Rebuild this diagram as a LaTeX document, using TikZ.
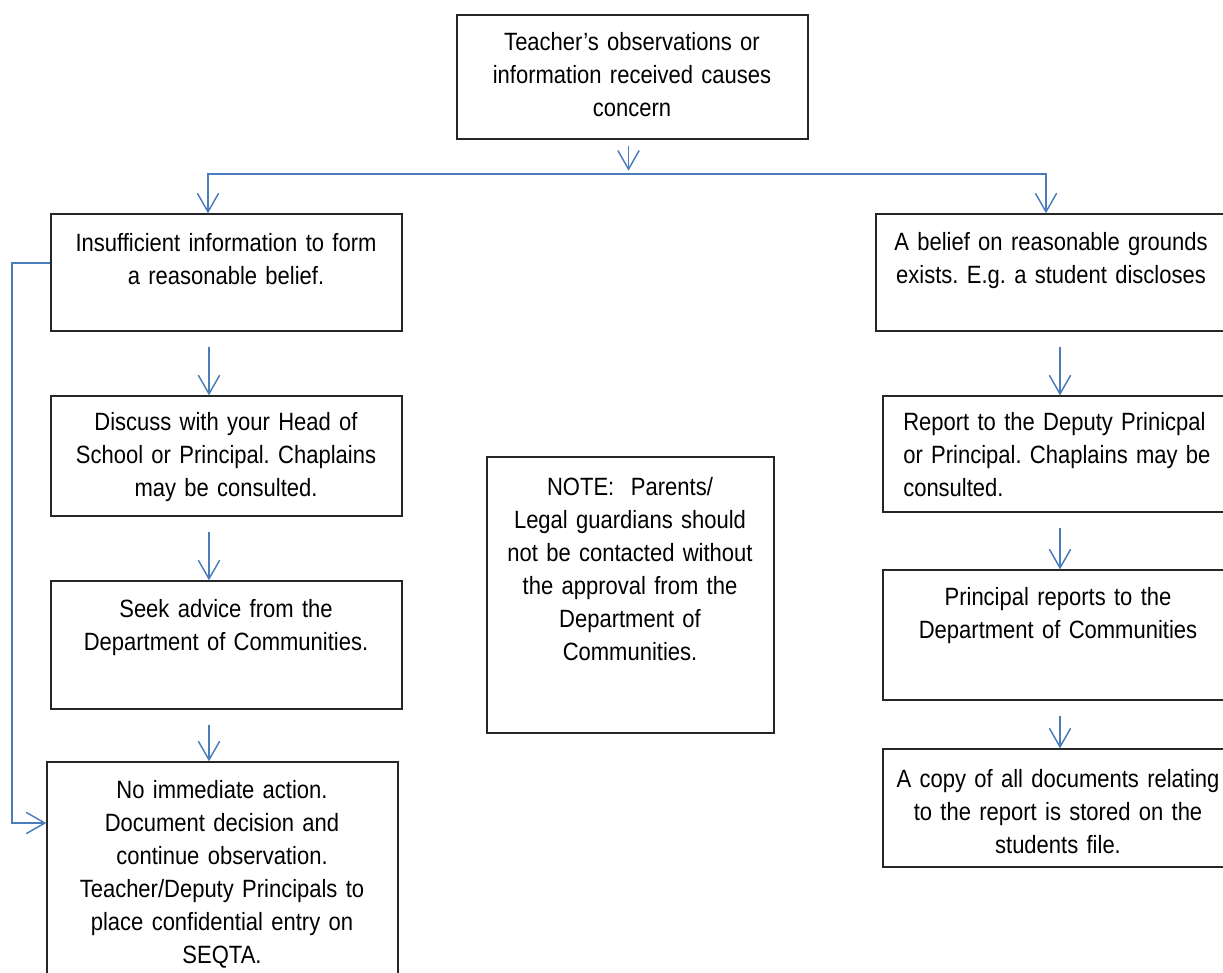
\documentclass[tikz,border=0pt]{standalone}
\usepackage{fontspec}
\setmainfont{Liberation Sans}[FakeStretch=0.88,WordSpace=0.7]
\frenchspacing
\usetikzlibrary{arrows.meta,fit}
\definecolor{flowblue}{HTML}{4A7EBB}
\definecolor{boxline}{HTML}{262626}
\tikzset{
  stepbox/.style={draw=boxline, line width=1pt, inner sep=0pt},
  steptext/.style={inner sep=0pt, text width=265pt, align=center, anchor=base,
    font=\fontsize{18.75pt}{24.75pt}\selectfont},
  flow/.style={draw=flowblue, line width=1.1pt, -{Straight Barb[length=14pt,width=16pt]}},
  splitflow/.style={flow, {Straight Barb[length=14pt,width=16pt]}-{Straight Barb[length=14pt,width=16pt]}}
}
\begin{document}
\begin{tikzpicture}[x=0.75pt,y=-0.75pt]
  \useasboundingbox (0,0) rectangle (1223,972);
  \clip (0,0) rectangle (1223,972);

  \node[stepbox, fit={(457,15) (808,139)}] (top) {};
  \node[stepbox, fit={(51,214) (402,331)}] (ins) {};
  \node[stepbox, fit={(51,396) (402,516)}] (dis) {};
  \node[stepbox, fit={(51,581) (402,709)}] (seek) {};
  \node[stepbox, fit={(47,762) (398,995)}] (noact) {};
  \node[stepbox, fit={(487,457) (774,733)}] (note) {};
  \node[stepbox, fit={(876,214) (1228,331)}] (bel) {};
  \node[stepbox, fit={(883,396) (1232,512)}] (rep) {};
  \node[stepbox, fit={(883,570) (1232,700)}] (prin) {};
  \node[stepbox, fit={(883,749) (1232,867)}] (copy) {};

  \node[steptext] (topT) at (632,50) {Teacher’s observations or\\ information received causes\\ concern};
  \node[steptext] (insT) at (226,251) {Insufficient information to form\\ a reasonable belief.};
  \node[steptext] (disT) at (226,430) {Discuss with your Head of\\ School or Principal. Chaplains\\ may be consulted.};
  \node[steptext] (seekT) at (226,617) {Seek advice from the\\ Department of Communities.};
  \node[steptext] (noactT) at (222,798) {No immediate action.\\ Document decision and\\ continue observation.\\ Teacher/Deputy Principals to\\ place confidential entry on\\ SEQTA.};
  \node[steptext] (noteT) at (630,495) {NOTE:~ Parents/\\ Legal guardians should\\ not be contacted without\\ the approval from the\\ Department of\\ Communities.};
  \node[steptext] (belT) at (1051,250) {A belief on reasonable grounds\\ exists. E.g. a student discloses};
  \node[steptext, align=left, anchor=base west] (repT) at (903,430) {Report to the Deputy Prinicpal\\ or Principal. Chaplains may be\\ consulted.};
  \node[steptext] (prinT) at (1058,605) {Principal reports to the\\ Department of Communities};
  \node[steptext] (copyT) at (1058,787) {A copy of all documents relating\\ to the report is stored on the\\ students file.};

  \coordinate (splitL) at (208,174);
  \coordinate (splitR) at (1046,174);
  \coordinate (fbtop) at (12,263);
  \coordinate (fbbot) at (12,823);
  \coordinate (lcol) at (209,0);
  \coordinate (rcol) at (1060,0);

  \draw[flow] (top.south) ++(-4,6) -- ++(0,25);
  \draw[splitflow] (ins.north -| splitL) -- (splitL) -- (splitR) -- (bel.north -| splitR);
  \foreach \a/\b in {ins/dis,dis/seek,seek/noact}
    \draw[flow] (\a.south -| lcol) ++(0,15) -- (\b.north -| lcol);
  \foreach \a/\b in {bel/rep,rep/prin,prin/copy}
    \draw[flow] (\a.south -| rcol) ++(0,15) -- (\b.north -| rcol);
  \draw[flow] (ins.west |- fbtop) -- (fbtop) -- (fbbot) -- (noact.west |- fbbot);
\end{tikzpicture}
\end{document}
